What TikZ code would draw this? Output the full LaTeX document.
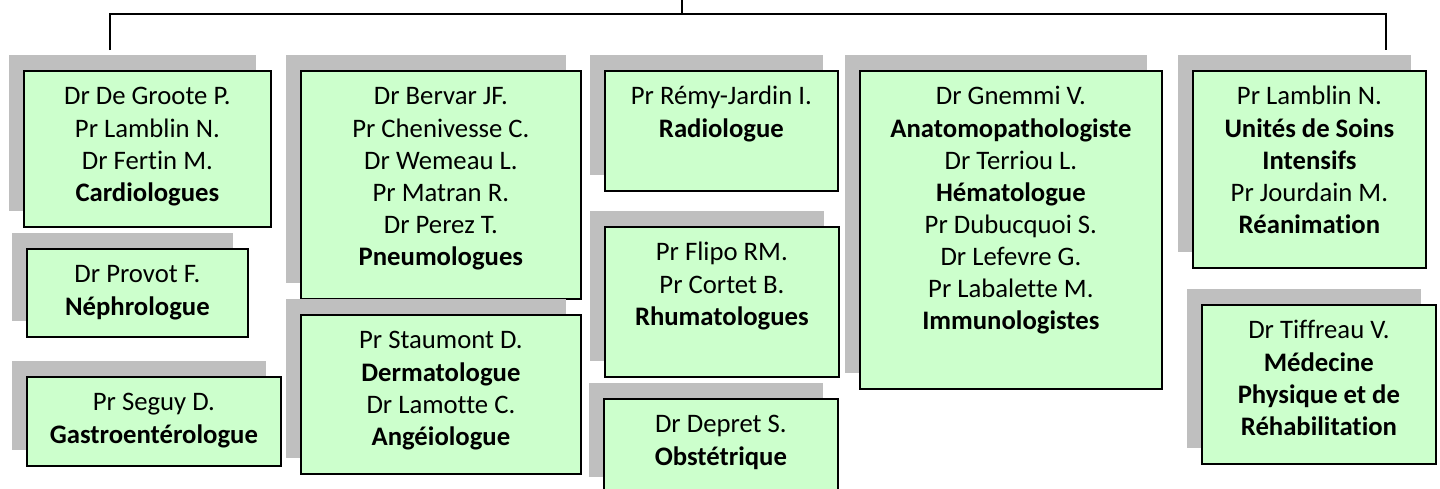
\documentclass[tikz,border=0pt]{standalone}
\usepackage{fontspec}
\setmainfont[Ligatures=NoCommon]{Carlito}
\usepackage{tikz}
\usetikzlibrary{arrows,positioning,calc}
\usetikzlibrary{shadows}
\definecolor{boxgreen}{RGB}{204,255,204}
\definecolor{shadowgray}{RGB}{191,191,191}
\newcommand{\boxlines}[1]{\begin{tabular}[t]{@{}c@{}}#1\end{tabular}}
\tikzset{
  medbox/.style={draw=black, line width=1pt, fill=boxgreen,
    anchor=north west, inner xsep=0pt, inner ysep=0pt, text height=0.68cm,
    font=\fontsize{15.2}{18.3}\selectfont,
    drop shadow={shadow xshift=-0.3cm, shadow yshift=0.32cm, fill=shadowgray, opacity=1}},
  bus/.style={line width=0.8pt}
}

\begin{document}
\begin{tikzpicture}[x=0.02cm,y=-0.02cm]
            \useasboundingbox (0,0) rectangle (1440,488);
            % upper connector
            \coordinate (root) at (682,0);
            \coordinate (busmid) at (682,14);
            \coordinate (dropL) at (110,50);
            \coordinate (dropR) at (1386,50);
            \draw [bus] (root) -- (busmid);
            \draw [bus] (dropL) -- ++(0,-36) -| (dropR);
            % first column
            \node [medbox, minimum width=247*0.02cm, text depth=2.44cm] (cardio) at (23,70)
                {\boxlines{Dr De Groote P.\\Pr Lamblin N.\\Dr Fertin M.\\\textbf{Cardiologues}}};
            \node [medbox, minimum width=221*0.02cm, text depth=1.08cm] (nephro) at (26,248)
                {\boxlines{Dr Provot F.\\\textbf{Néphrologue}}};
            \node [medbox, minimum width=254*0.02cm, text depth=1.10cm] (gastro) at (26,376)
                {\boxlines{Pr Seguy D.\\\textbf{Gastroentérologue}}};
            % second column
            \node [medbox, minimum width=280*0.02cm, text depth=3.88cm] (pneumo) at (300,70)
                {\boxlines{Dr Bervar JF.\\Pr Chenivesse C.\\Dr Wemeau L.\\Pr Matran R.\\Dr Perez T.\\\textbf{Pneumologues}}};
            \node [medbox, minimum width=280*0.02cm, text depth=2.50cm] (dermato) at (300,314)
                {\boxlines{Pr Staumont D.\\\textbf{Dermatologue}\\Dr Lamotte C.\\\textbf{Angéiologue}}};
            % third column
            \node [medbox, minimum width=233*0.02cm, text depth=1.72cm] (radio) at (604,70)
                {\boxlines{Pr Rémy-Jardin I.\\\textbf{Radiologue}}};
            \node [medbox, minimum width=234*0.02cm, text depth=2.32cm] (rhumato) at (604,226)
                {\boxlines{Pr Flipo RM.\\Pr Cortet B.\\\textbf{Rhumatologues}}};
            \node [medbox, minimum width=234*0.02cm, text depth=1.20cm] (obstet) at (603,398)
                {\boxlines{Dr Depret S.\\\textbf{Obstétrique}}};
            % fourth column
            \node [medbox, minimum width=302*0.02cm, text depth=5.68cm] (immuno) at (859,70)
                {\boxlines{Dr Gnemmi V.\\\textbf{Anatomopathologiste}\\Dr Terriou L.\\\textbf{Hématologue}\\Pr Dubucquoi S.\\Dr Lefevre G.\\Pr Labalette M.\\\textbf{Immunologistes}}};
            % fifth column
            \node [medbox, minimum width=233*0.02cm, text depth=3.26cm] (usi) at (1192,70)
                {\boxlines{Pr Lamblin N.\\\textbf{Unités de Soins}\\\textbf{Intensifs}\\Pr Jourdain M.\\\textbf{Réanimation}}};
            \node [medbox, minimum width=234*0.02cm, text depth=2.50cm] (mpr) at (1201,304)
                {\boxlines{Dr Tiffreau V.\\\textbf{Médecine}\\\textbf{Physique et de}\\\textbf{Réhabilitation}}};
        \end{tikzpicture}
\end{document}
